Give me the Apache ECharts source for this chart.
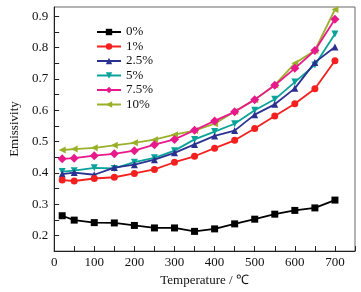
<!DOCTYPE html>
<html>
<head>
<meta charset="utf-8">
<script src="https://cdn.jsdelivr.net/npm/echarts@6/dist/echarts.min.js"></script>
<style>
  html, body { margin: 0; padding: 0; background: #fff; }
  #chart { width: 361px; height: 292px; }
</style>
</head>
<body>
<div id="chart"></div>
<script>
// temperature (°C)
const temps = [20, 50, 100, 150, 200, 250, 300, 350, 400, 450, 500, 550, 600, 650, 700];

// emissivity per doping level
const e0 = [0.263, 0.249, 0.241, 0.240, 0.232, 0.224, 0.224, 0.213, 0.221, 0.237, 0.252, 0.268, 0.280, 0.288, 0.313];
const e1 = [0.377, 0.374, 0.382, 0.386, 0.398, 0.411, 0.434, 0.453, 0.479, 0.504, 0.542, 0.582, 0.621, 0.669, 0.758];
const e25 = [0.396, 0.401, 0.394, 0.417, 0.426, 0.442, 0.464, 0.491, 0.518, 0.535, 0.586, 0.619, 0.670, 0.753, 0.802];
const e5 = [0.404, 0.407, 0.416, 0.414, 0.434, 0.448, 0.471, 0.507, 0.532, 0.557, 0.600, 0.635, 0.690, 0.745, 0.844];
const e75 = [0.445, 0.447, 0.455, 0.461, 0.471, 0.490, 0.507, 0.536, 0.566, 0.595, 0.634, 0.680, 0.734, 0.791, 0.891];
const e10 = [0.473, 0.476, 0.480, 0.488, 0.496, 0.506, 0.522, 0.535, 0.557, 0.596, 0.634, 0.681, 0.750, 0.791, 0.922];

const names = ["0%", "1%", "2.5%", "5%", "7.5%", "10%"];
const values = [e0, e1, e25, e5, e75, e10];
const colors = ["#000000", "#f42020", "#2b3190", "#0aa39a", "#e8198b", "#9bb02a"];
const symbols = ["rect", "circle", "triangle", "path://M0,0 L10,0 L5,9 Z", "diamond", "path://M0,5 L9,0 L9,10 Z"];

const font = "Liberation Serif";

let chart = echarts.init(document.getElementById("chart"));

const series = names.map((n, i) => ({
  name: n,
  type: "line",
  data: temps.map((t, k) => [t, values[i][k]]),
  symbol: symbols[i],
  symbolSize: i === 4 ? 9 : 7,
  lineStyle: { width: 1.8, color: colors[i] },
  itemStyle: { color: colors[i] },
  z: 10 - i,
}));

const option = {
  animation: false,
  color: colors,
  grid: {
    left: 42,
    right: 6,
    top: 7,
    bottom: 35,
    show: true,
    borderColor: "#666",
    borderWidth: 1,
  },
  legend: {
    orient: "vertical",
    left: 91,
    top: 20,
    itemWidth: 24,
    itemHeight: 8,
    itemGap: 0.5,
    textStyle: { fontFamily: font, fontSize: 13, color: "#111", lineHeight: 14 },
    data: names,
  },
  xAxis: {
    type: "value",
    min: 0,
    max: 750,
    interval: 50,
    name: "Temperature / \u2103",
    nameLocation: "middle",
    nameGap: 22,
    nameTextStyle: { fontFamily: font, fontSize: 13, color: "#111" },
    axisLine: { lineStyle: { color: "#222" } },
    axisTick: { inside: true, length: 5, lineStyle: { color: "#222" } },
    splitLine: { show: false },
    axisLabel: {
      fontFamily: font,
      fontSize: 13,
      color: "#111",
      margin: 5,
      formatter: (v) => (v % 100 === 0 ? String(v) : ""),
    },
  },
  yAxis: {
    type: "value",
    min: 0.15,
    max: 0.93,
    interval: 0.05,
    name: "Emissivity",
    nameLocation: "middle",
    nameGap: 31,
    nameTextStyle: { fontFamily: font, fontSize: 13, color: "#111" },
    axisLine: { show: true, lineStyle: { color: "#222" } },
    axisTick: { show: true, inside: true, length: 5, lineStyle: { color: "#222" } },
    splitLine: { show: false },
    axisLabel: {
      fontFamily: font,
      fontSize: 13,
      color: "#111",
      margin: 6,
      showMaxLabel: false,
      formatter: (v) => (Math.round(v * 100) % 10 === 0 ? v.toFixed(1) : ""),
    },
  },
  series: series,
};

chart.setOption(option);
</script>
</body>
</html>
